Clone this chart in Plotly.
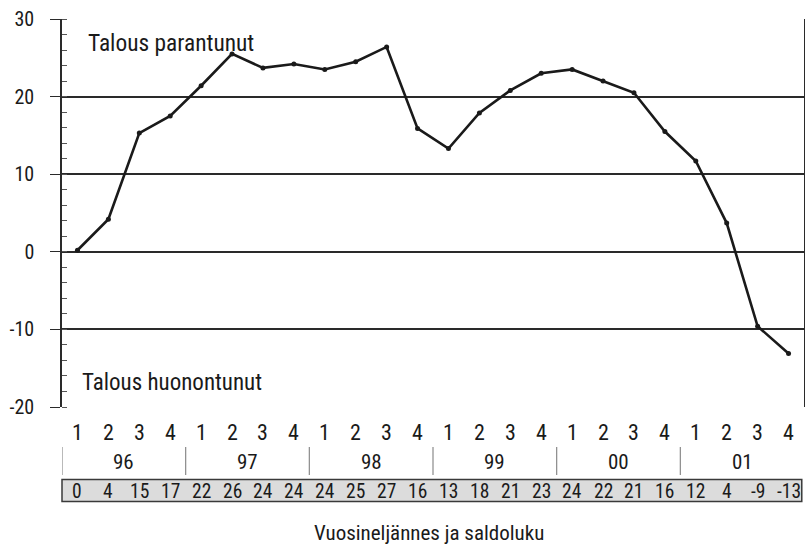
import plotly.graph_objects as go

# Data
quarters = ["1", "2", "3", "4"] * 6
years = ["96", "97", "98", "99", "00", "01"]
saldo = [0.2, 4.2, 15.3, 17.5, 21.4, 25.5, 23.7, 24.2, 23.5, 24.5, 26.4, 15.9,
         13.3, 17.9, 20.8, 23.0, 23.5, 22.0, 20.5, 15.5, 11.7, 3.7, -9.6, -13.1]
table_labels = ["0", "4", "15", "17", "22", "26", "24", "24", "24", "25", "27", "16",
                "13", "18", "21", "23", "24", "22", "21", "16", "12", "4", "-9", "-13"]
y_ticks = [-20, -10, 0, 10, 20, 30]

FONT = "Roboto Condensed, Roboto, DejaVu Sans Condensed, sans-serif"
INK = "#1a1a1a"

x = list(range(len(saldo)))

fig = go.Figure()
fig.add_trace(go.Scatter(
    x=x, y=saldo, mode="lines+markers",
    line=dict(color=INK, width=2.6),
    marker=dict(color=INK, size=5),
    hoverinfo="skip", showlegend=False,
))

PLOT_BOTTOM = 407
PLOT_H = 388


def py(pix):
    return (PLOT_BOTTOM - pix) / PLOT_H


annotations = []
shapes = []

for i, q in enumerate(quarters):
    annotations.append(dict(x=i, y=py(432), xref="x", yref="paper", text=q,
                            showarrow=False, font=dict(family=FONT, size=22, color=INK),
                            xanchor="center", yanchor="middle"))
for k, yr in enumerate(years):
    annotations.append(dict(x=4 * k + 1.5, y=py(462), xref="x", yref="paper", text=yr,
                            showarrow=False, font=dict(family=FONT, size=21, color=INK),
                            xanchor="center", yanchor="middle"))
    shapes.append(dict(type="line", xref="x", yref="paper", x0=4 * k - 0.5, x1=4 * k - 0.5,
                       y0=py(447), y1=py(475), line=dict(color="#8a8a8a", width=1.2)))

shapes.append(dict(type="rect", xref="paper", yref="paper", x0=0, x1=0.997,
                   y0=py(501.5), y1=py(479.5), fillcolor="#dcdcdc",
                   line=dict(color="#3a3a3a", width=1.5), layer="below"))
for i, t in enumerate(table_labels):
    annotations.append(dict(x=i, y=py(491), xref="x", yref="paper", text=t,
                            showarrow=False, font=dict(family=FONT, size=19.5, color=INK),
                            xanchor="center", yanchor="middle"))

annotations.append(dict(x=(429 - 62) / 742, y=py(533), xref="paper", yref="paper",
                        text="Vuosineljännes ja saldoluku", showarrow=False,
                        font=dict(family=FONT, size=21, color=INK),
                        xanchor="center", yanchor="middle"))

annotations.append(dict(x=(86 - 62) / 742, y=26.9, xref="paper", yref="y",
                        text="Talous parantunut", showarrow=False,
                        font=dict(family=FONT, size=23.4, color=INK),
                        xanchor="left", yanchor="middle"))
annotations.append(dict(x=(80 - 62) / 742, y=-16.9, xref="paper", yref="y",
                        text="Talous huonontunut", showarrow=False,
                        font=dict(family=FONT, size=23, color=INK),
                        xanchor="left", yanchor="middle"))

fig.update_layout(
    width=805, height=546,
    margin=dict(l=62, r=1, t=19, b=139, autoexpand=False),
    paper_bgcolor="white", plot_bgcolor="white",
    shapes=shapes, annotations=annotations,
    xaxis=dict(range=[-0.5, 23.5], showticklabels=False, showgrid=False,
               zeroline=False, ticks="", showline=False, fixedrange=True,
               automargin=False),
    yaxis=dict(range=[-20, 30], tickvals=y_ticks, ticktext=[str(v) for v in y_ticks],
               showgrid=True, gridcolor="#2a2a2a", gridwidth=1.5,
               zeroline=False, showline=True, linecolor="#2a2a2a", linewidth=1.5,
               mirror=True, ticks="outside", ticklen=10, tickwidth=1.2,
               tickcolor="#2a2a2a", ticklabelstandoff=12,
               tickfont=dict(family=FONT, size=20, color=INK),
               minor=dict(dtick=2, ticks="inside", ticklen=5, tickcolor="#555",
                          tickwidth=1, showgrid=False),
               fixedrange=True, automargin=False),
)

fig.write_html("out.html", config={"displayModeBar": False},
               post_script="document.body.style.margin='0';document.body.style.overflow='hidden';")
